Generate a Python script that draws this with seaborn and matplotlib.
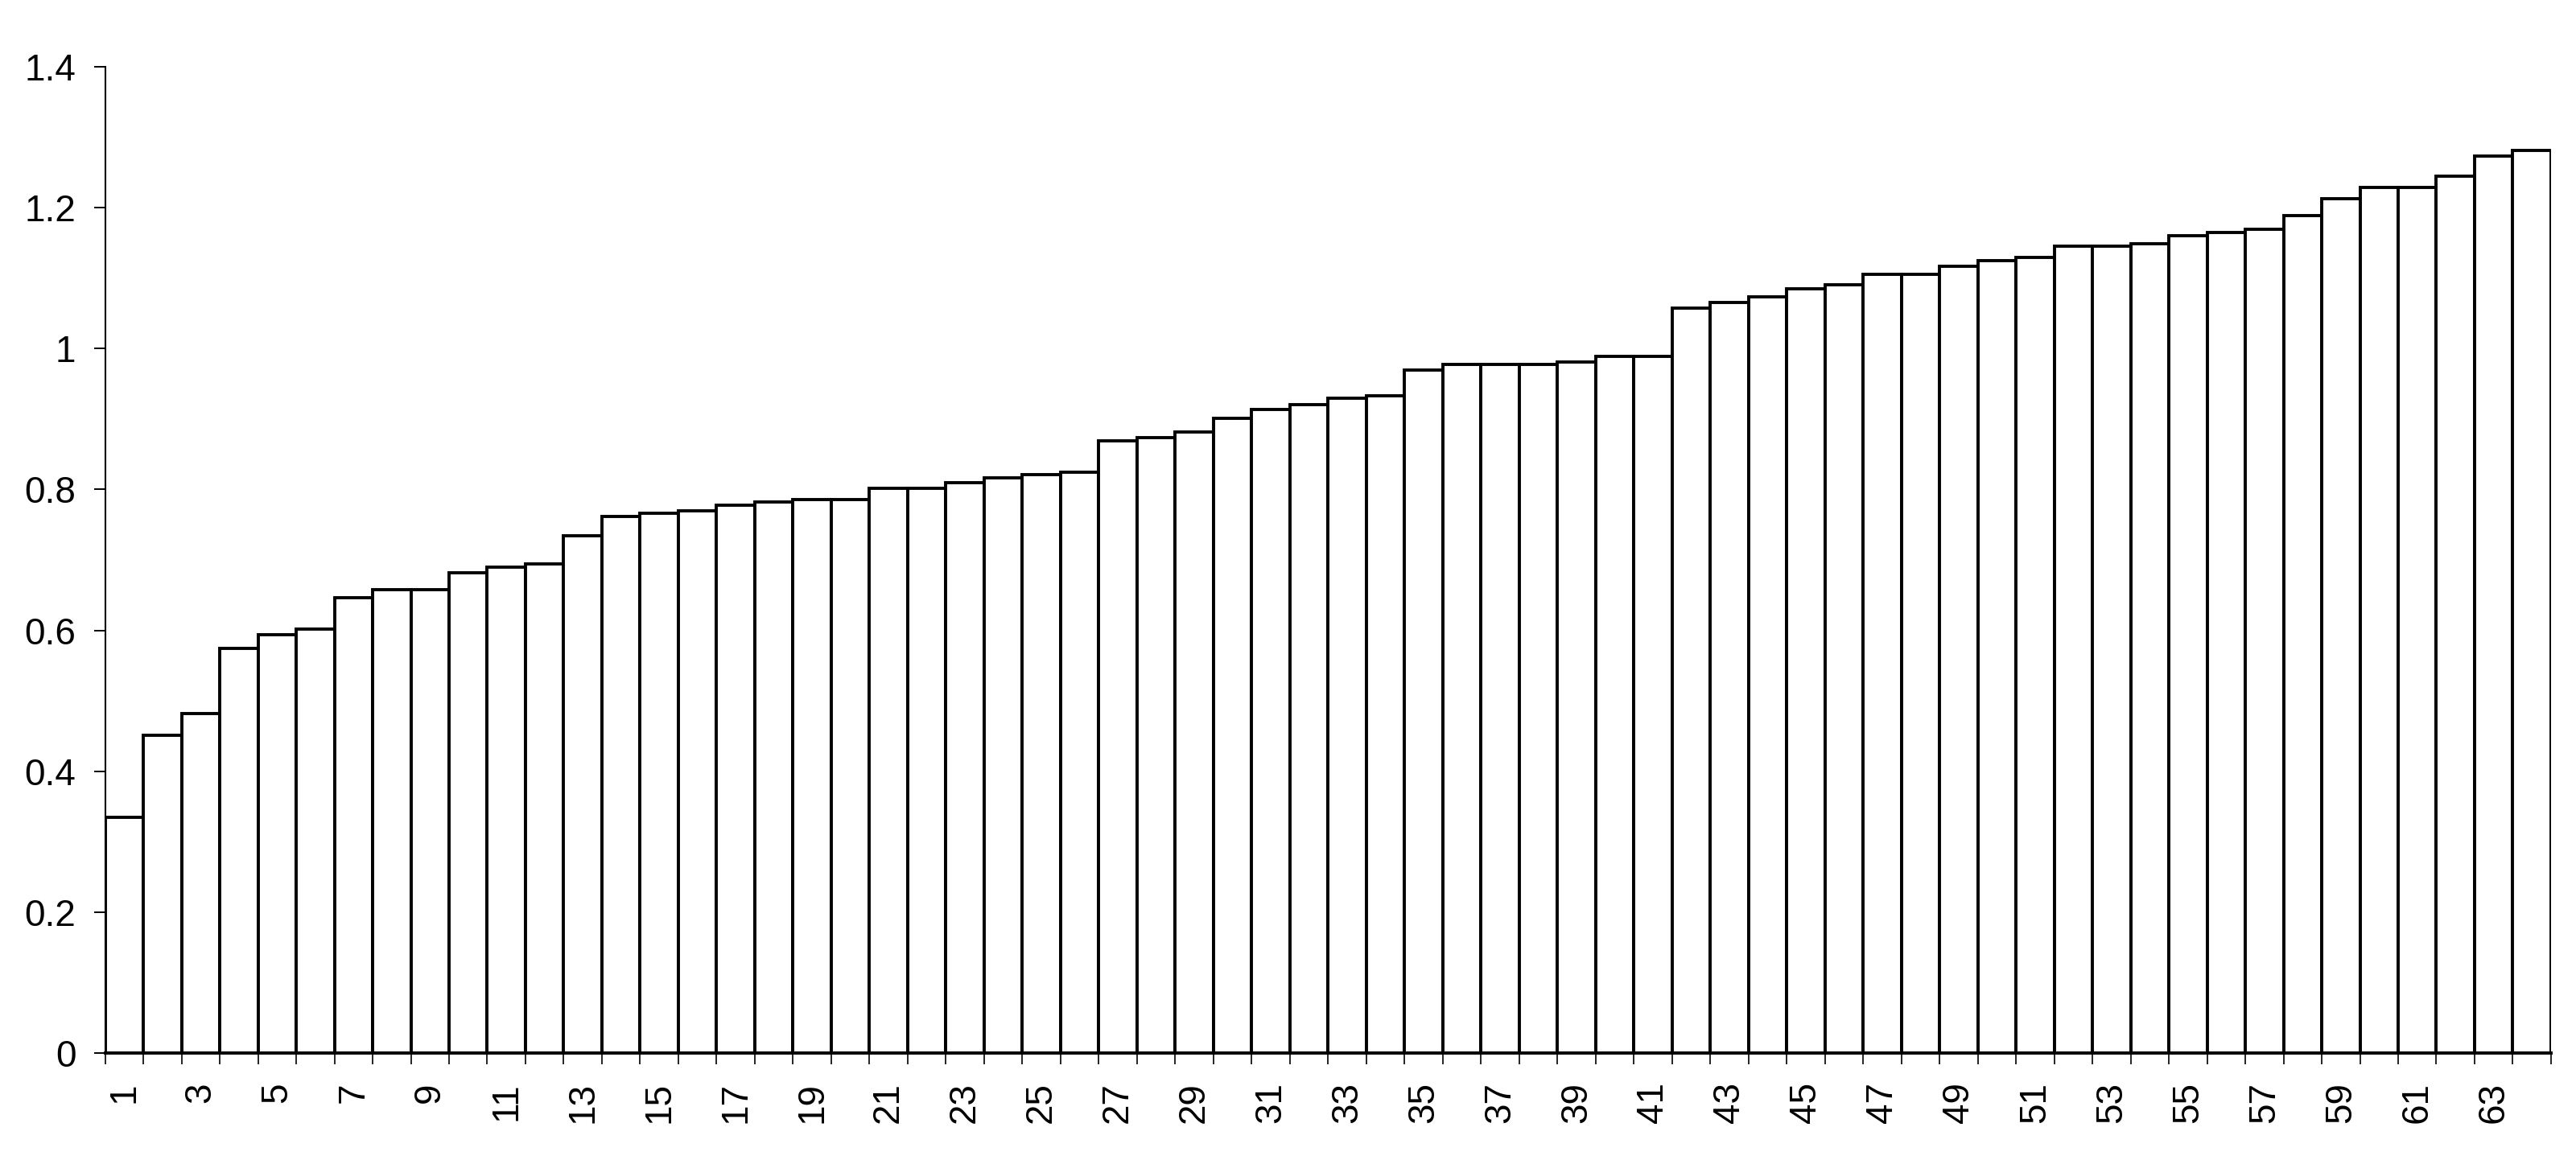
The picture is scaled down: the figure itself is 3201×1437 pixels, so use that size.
import matplotlib
matplotlib.use("Agg")
import matplotlib.pyplot as plt
import seaborn as sns
import numpy as np
import pandas as pd
from matplotlib.ticker import FixedLocator, FuncFormatter

categories = [str(i) for i in range(1, 65)]
values = [0.335, 0.451, 0.482, 0.574, 0.594, 0.602, 0.646, 0.658, 0.658, 0.682,
          0.690, 0.694, 0.734, 0.762, 0.766, 0.770, 0.778, 0.782, 0.786, 0.786,
          0.802, 0.802, 0.810, 0.817, 0.821, 0.825, 0.869, 0.873, 0.881, 0.901,
          0.913, 0.920, 0.929, 0.933, 0.969, 0.977, 0.977, 0.977, 0.981, 0.989,
          0.989, 1.057, 1.065, 1.073, 1.085, 1.090, 1.105, 1.105, 1.117, 1.125,
          1.129, 1.145, 1.145, 1.149, 1.160, 1.165, 1.169, 1.188, 1.212, 1.229,
          1.229, 1.244, 1.273, 1.281]
y_ticks = [0, 0.2, 0.4, 0.6, 0.8, 1.0, 1.2, 1.4]
x_label_every = 2

sns.set_theme(style="white")
plt.rcParams['font.family'] = ['Liberation Sans', 'DejaVu Sans']
plt.rcParams['text.color'] = 'black'
plt.rcParams['xtick.color'] = 'black'
plt.rcParams['ytick.color'] = 'black'
plt.rcParams['xtick.labelcolor'] = 'black'
plt.rcParams['ytick.labelcolor'] = 'black'

df = pd.DataFrame({"cat": categories, "val": values})

fig = plt.figure(figsize=(32.01, 14.37), dpi=100)
ax = fig.add_axes([0.0408, 0.0889, 0.9495, 0.8535])

sns.barplot(data=df, x="cat", y="val", order=categories, color="white",
            saturation=1, edgecolor="black", linewidth=2.8, width=1.0, ax=ax,
            errorbar=None)

ax.set_xlim(-0.5, len(categories) - 0.5)
ax.set_ylim(0, 1.4)
ax.set_xlabel("")
ax.set_ylabel("")

# y axis
ax.yaxis.set_major_locator(FixedLocator(y_ticks))
ax.yaxis.set_major_formatter(FuncFormatter(lambda v, p: f"{v:g}"))
ax.tick_params(axis="y", which="major", direction="out", length=10, width=1.4,
               color="black", labelcolor="black", labelsize=33, pad=16, left=True)

# x axis: labels at odd categories, tick marks at boundaries
pos = list(range(0, len(categories), x_label_every))
ax.xaxis.set_major_locator(FixedLocator(pos))
ax.set_xticklabels([categories[i] for i in pos], rotation=90)
ax.xaxis.set_minor_locator(FixedLocator(np.arange(-0.5, len(categories), 1.0)))
ax.tick_params(axis="x", which="major", length=0, labelsize=33, pad=26,
               labelcolor="black")
ax.tick_params(axis="x", which="minor", direction="out", length=10, width=1.2,
               color="black", bottom=True)

for s in ["top", "right"]:
    ax.spines[s].set_visible(False)
ax.spines["left"].set_color("black")
ax.spines["left"].set_linewidth(1.5)
ax.spines["bottom"].set_color("black")
ax.spines["bottom"].set_linewidth(2.8)
ax.grid(False)

fig.savefig("out.png", dpi=100, facecolor="white")
